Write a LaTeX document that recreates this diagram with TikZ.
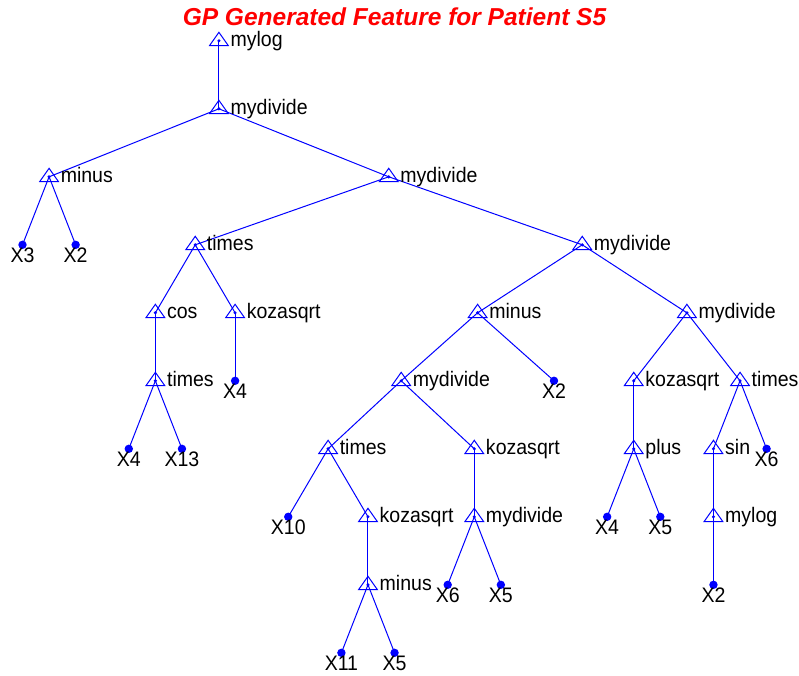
\documentclass[tikz,border=0pt]{standalone}
\usepackage{fontspec}
\setmainfont{Liberation Sans}
\newfontfamily\labelfont[FakeStretch=0.93]{Liberation Sans}
\begin{document}
\begin{tikzpicture}[x=1pt,y=1pt,
  edge/.style={draw=blue,line width=1pt},
  tri/.style={draw=blue,line width=1pt,fill=none},
  opdot/.style={circle,fill=blue,inner sep=0pt,minimum size=3.4pt},
  leafdot/.style={circle,fill=blue,inner sep=0pt,minimum size=8.4pt},
  optext/.style={anchor=base west,inner sep=0pt,font=\labelfont\fontsize{21}{25}\selectfont},
  leaftext/.style={anchor=base,inner sep=0pt,font=\labelfont\fontsize{21}{25}\selectfont},
  titletext/.style={anchor=base,inner sep=0pt,text=red,font=\fontsize{24.5}{28}\selectfont\bfseries\itshape}]
\useasboundingbox (0,0) rectangle (799,-675);

\node[titletext] (title) at (394.5,-25) {GP Generated Feature for Patient S5};

% operator nodes
\node[opdot] (o1)  at (218.91,-40.8)  {};
\node[opdot] (o2)  at (218.91,-108.8) {};
\node[opdot] (o3)  at (49.08,-176.8)  {};
\node[opdot] (o4)  at (388.74,-176.8) {};
\node[opdot] (o5)  at (195.24,-244.8) {};
\node[opdot] (o6)  at (582.24,-244.8) {};
\node[opdot] (o7)  at (155.38,-312.8) {};
\node[opdot] (o8)  at (235.1,-312.8)  {};
\node[opdot] (o9)  at (477.6,-312.8)  {};
\node[opdot] (o10) at (686.88,-312.8) {};
\node[opdot] (o11) at (155.38,-380.8) {};
\node[opdot] (o12) at (401.19,-380.8) {};
\node[opdot] (o13) at (633.73,-380.8) {};
\node[opdot] (o14) at (740.03,-380.8) {};
\node[opdot] (o15) at (328.11,-448.8) {};
\node[opdot] (o16) at (474.28,-448.8) {};
\node[opdot] (o17) at (633.73,-448.8) {};
\node[opdot] (o18) at (713.45,-448.8) {};
\node[opdot] (o19) at (367.98,-516.8) {};
\node[opdot] (o20) at (474.28,-516.8) {};
\node[opdot] (o21) at (713.45,-516.8) {};
\node[opdot] (o22) at (367.98,-584.8) {};

% terminal nodes
\node[leafdot] (l1)  at (22.5,-244.8)   {};
\node[leafdot] (l2)  at (75.65,-244.8)  {};
\node[leafdot] (l3)  at (235.1,-380.8)  {};
\node[leafdot] (l4)  at (128.8,-448.8)  {};
\node[leafdot] (l5)  at (181.95,-448.8) {};
\node[leafdot] (l6)  at (554.0,-380.8)  {};
\node[leafdot] (l7)  at (766.6,-448.8)  {};
\node[leafdot] (l8)  at (288.25,-516.8) {};
\node[leafdot] (l9)  at (607.15,-516.8) {};
\node[leafdot] (l10) at (660.3,-516.8)  {};
\node[leafdot] (l11) at (447.7,-584.8)  {};
\node[leafdot] (l12) at (500.85,-584.8) {};
\node[leafdot] (l13) at (713.45,-584.8) {};
\node[leafdot] (l14) at (341.4,-652.8)  {};
\node[leafdot] (l15) at (394.55,-652.8) {};

% tree edges
\foreach \a/\b in {o1/o2,o2/o3,o2/o4,o3/l1,o3/l2,o4/o5,o4/o6,o5/o7,o5/o8,
  o7/o11,o8/l3,o11/l4,o11/l5,o6/o9,o6/o10,o9/o12,o9/l6,o12/o15,o12/o16,
  o15/l8,o15/o19,o19/o22,o22/l14,o22/l15,o16/o20,o20/l11,o20/l12,
  o10/o13,o10/o14,o13/o17,o17/l9,o17/l10,o14/o18,o14/l7,o18/o21,o21/l13}
  \draw[edge] (\a.center) -- (\b.center);

% triangle markers on operator nodes
\foreach \n in {o1,o2,o3,o4,o5,o6,o7,o8,o9,o10,o11,o12,o13,o14,o15,o16,o17,o18,o19,o20,o21,o22}
  \draw[tri] ([yshift=8.5pt]\n.center) -- ([shift={(9.3,-4.7)}]\n.center)
    -- ([shift={(-9.3,-4.7)}]\n.center) -- cycle;

% operator labels
\foreach \n/\t in {o1/mylog,o2/mydivide,o3/minus,o4/mydivide,o5/times,o6/mydivide,
  o7/cos,o8/kozasqrt,o9/minus,o10/mydivide,o11/times,o12/mydivide,o13/kozasqrt,
  o14/times,o15/times,o16/kozasqrt,o17/plus,o18/sin,o19/kozasqrt,o20/mydivide,
  o21/mylog,o22/minus}
  \node[optext] (\n-t) at ([shift={(11.5,-5.5)}]\n.center) {\t};

% terminal labels
\foreach \n/\t in {l1/X3,l2/X2,l3/X4,l4/X4,l5/X13,l6/X2,l7/X6,l8/X10,l9/X4,
  l10/X5,l11/X6,l12/X5,l13/X2,l14/X11,l15/X5}
  \node[leaftext] (\n-t) at ([yshift=-18pt]\n.center) {\t};
\end{tikzpicture}
\end{document}
